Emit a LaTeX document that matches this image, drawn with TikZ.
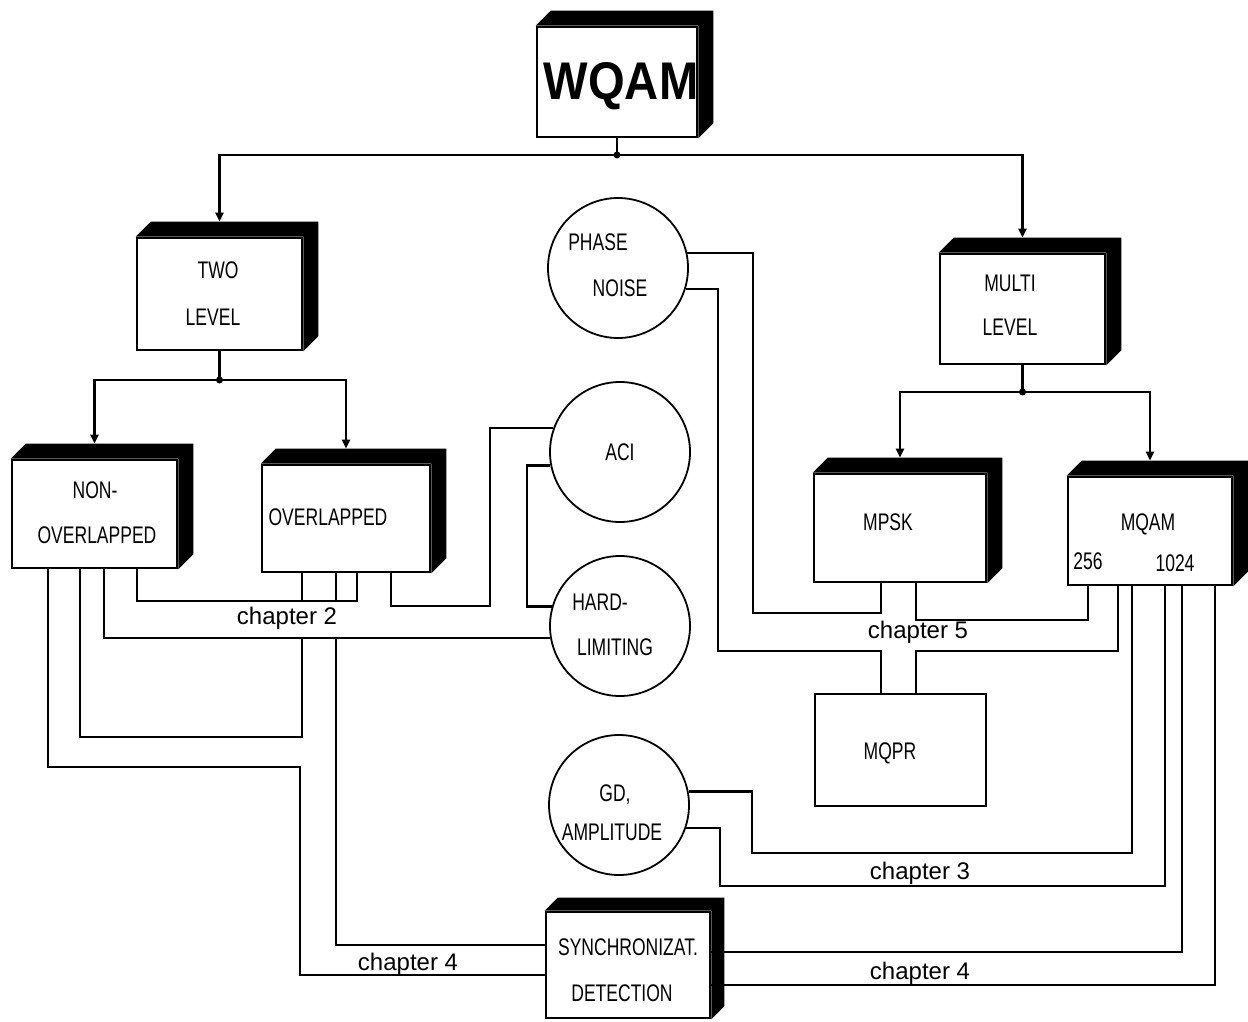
\documentclass[tikz,border=0pt]{standalone}
\usepackage{fontspec}
\setmainfont{Liberation Sans}
\newfontfamily\condf[FakeStretch=0.73]{Liberation Sans}
\newfontfamily\wqamf[FakeStretch=0.89]{Liberation Sans Bold}
\usetikzlibrary{arrows.meta,calc}
\newcommand\boxfaces[2]{\fill (#1.north west) -- ++(#2,-#2) -| ($(#1.south east)+(#2,-#2)$) -- (#1.south east) -- (#1.north east) -- cycle;}
\begin{document}
\begin{tikzpicture}[x=1pt,y=-1pt,
  wire/.style={line width=2.2pt, line join=miter},
  bx/.style={draw, line width=2.6pt, inner sep=0pt},
  circ/.style={draw, circle, line width=1.8pt, inner sep=0pt, minimum size=140pt},
  lab/.style={font=\condf\fontsize{24}{24}\selectfont, inner sep=0pt},
  chap/.style={font=\fontsize{24}{24}\selectfont, inner sep=0pt},
  arr/.style={wire, -{Triangle[length=9pt,width=8pt]}}]
\useasboundingbox (0,0) rectangle (1248,1022);

% boxes
\node[bx, minimum width=160pt, minimum height=110pt] (wqam)  at (617,82) {};
\node[bx, minimum width=165pt, minimum height=112pt] (two)   at (219.5,294) {};
\node[bx, minimum width=165pt, minimum height=108pt] (non)   at (94.5,514) {};
\node[bx, minimum width=168pt, minimum height=107pt] (ov)    at (346,518.5) {};
\node[bx, minimum width=165pt, minimum height=110pt] (multi) at (1022.5,309) {};
\node[bx, minimum width=172pt, minimum height=108pt] (mpsk)  at (900,528) {};
\node[bx, minimum width=164pt, minimum height=108pt] (mqam)  at (1150,531) {};
\node[bx, minimum width=171pt, minimum height=112pt] (mqpr)  at (900.5,750) {};
\node[bx, minimum width=164pt, minimum height=106pt] (sync)  at (628,965) {};
\boxfaces{wqam}{15}
\boxfaces{two}{15}
\boxfaces{non}{15}
\boxfaces{ov}{15}
\boxfaces{multi}{15}
\boxfaces{mpsk}{15}
\boxfaces{mqam}{15}
\boxfaces{sync}{13}

% circles
\node[circ] (pn)  at (618,268) {};
\node[circ] (aci) at (620,452) {};
\node[circ] (hl)  at (620,626) {};
\node[circ] (gd)  at (619,805) {};

% texts
\node[inner sep=0pt, font=\wqamf\fontsize{53}{53}\selectfont] (tw) at (621,86) {WQAM};
\node[lab] (t1) at (218,270) {TWO};
\node[lab] (t2) at (213,317) {LEVEL};
\node[lab] (t3) at (95,490) {NON-};
\node[lab] (t4) at (97,535) {OVERLAPPED};
\node[lab] (t5) at (328,517) {OVERLAPPED};
\node[lab] (t6) at (598,242) {PHASE};
\node[lab] (t7) at (620,288) {NOISE};
\node[lab] (t8) at (620,452) {ACI};
\node[lab] (t9) at (600,602) {HARD-};
\node[lab] (t10) at (615,647) {LIMITING};
\node[lab] (t11) at (615,795) {GD,};
\node[lab] (t12) at (612,832) {AMPLITUDE};
\node[lab] (t13) at (1010,283) {MULTI};
\node[lab] (t14) at (1010,327) {LEVEL};
\node[lab] (t15) at (888,522) {MPSK};
\node[lab] (t16) at (1148,524) {MQAM};
\node[lab] (t17) at (1088,561) {256};
\node[lab] (t18) at (1175,563) {1024};
\node[lab] (t19) at (890,753) {MQPR};
\node[lab] (t20) at (628,947) {SYNCHRONIZAT.};
\node[lab] (t21) at (622,993) {DETECTION};
\node[chap] (c2) at (287,618) {chapter 2};
\node[chap] (c5) at (918,632) {chapter 5};
\node[chap] (c3) at (920,873) {chapter 3};
\node[chap] (c4r) at (920,973) {chapter 4};
\node[chap, anchor=south] (c4l) at (408,976) {chapter 4};

% tree
\coordinate (j0) at (617,155);
\coordinate (j1) at (219.5,380);
\coordinate (j2) at (1022.5,392);
\draw[wire] (wqam.south) -- (j0);
\draw[arr] (j0) -| ([yshift=15pt]two.north);
\draw[arr] (j0) -| ([yshift=15pt]multi.north);
\draw[wire] (two.south) -- (j1);
\draw[arr] (j1) -| ([yshift=15pt]non.north);
\draw[arr] (j1) -| ([yshift=15pt]ov.north);
\draw[wire] (multi.south) -- (j2);
\draw[arr] (j2) -| ([yshift=15pt]mpsk.north);
\draw[arr] (j2) -| ([yshift=15pt]mqam.north);
\fill (j0) circle (3.5pt) (j1) circle (3.5pt) (j2) circle (3.5pt);

% chapter 2 group
\draw[wire] (non.south -| 137,0) |- (357,601) -- (ov.south -| 357,0);
\draw[wire] (ov.south -| 302,0) -- (302,601);
\draw[wire] (ov.south -| 336,0) -- (336,601);
\draw[wire] (ov.south -| 391,0) |- (490,606) |- (aci.160);
\draw[wire] (non.south -| 104,0) |- (hl.190);
\coordinate (b1) at (hl.190 -| 302,0);
\coordinate (b2) at (hl.190 -| 336,0);
\draw[wire] (b1) |- (80,737) -- (non.south -| 80,0);
\draw[wire] (b2) |- ([yshift=20pt]sync.west);
\draw[wire] (non.south -| 48,0) |- (300,767) |- ([yshift=-10pt]sync.west);
\draw[wire] (aci.191) -| (527,0 |- hl.164) -- (hl.164);

% chapter 5
\draw[wire] (pn.12) -| (753,613) -| (mpsk.south -| 881,0);
\draw[wire] (mpsk.south -| 916,0) |- (1088,620) -- (mqam.south -| 1088,0);
\draw[wire] (pn.-17) -| (718,651) -| (mqpr.north -| 881,0);
\draw[wire] (mqpr.north -| 916,0) |- (1118,651) -- (mqam.south -| 1118,0);

% chapter 3
\draw[wire] (gd.11) -| (752,853) -| (mqam.south -| 1132,0);
\draw[wire] (gd.-19) -| (720,886) -| (mqam.south -| 1165,0);

% chapter 4 right
\draw[wire] ([yshift=13pt]sync.east) -| (mqam.south -| 1182,0);
\draw[wire] ([yshift=-20pt]sync.east) -| (mqam.south -| 1215,0);
\end{tikzpicture}
\end{document}
